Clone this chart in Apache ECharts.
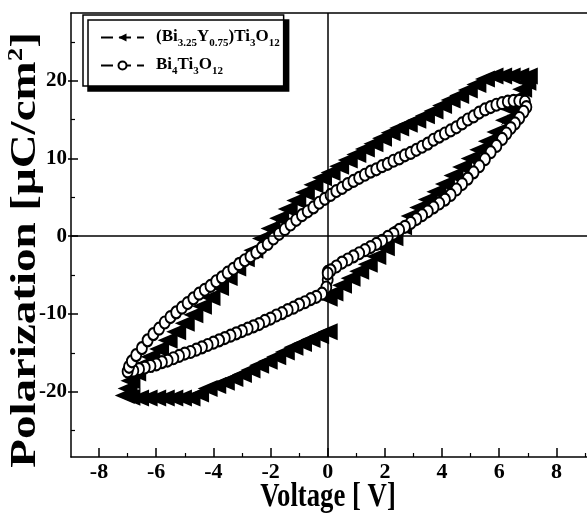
<!DOCTYPE html>
<html>
<head>
<meta charset="utf-8">
<script src="https://cdn.jsdelivr.net/npm/echarts@6/dist/echarts.min.js"></script>
<style>
html,body{margin:0;padding:0;background:#fff;}
#chart{width:587px;height:516px;}
</style>
</head>
<body>
<div id="chart"></div>
<script>
/* P-E hysteresis loops, two films. */
var seriesNames = ["(Bi3.25Y0.75)Ti3O12", "Bi4Ti3O12"];

/* [voltage V, polarization uC/cm2] - Y-doped film, filled triangles */
var bytLoop = [
  [0.0,-12.3],[-0.3,-12.8],[-0.6,-13.3],[-0.9,-13.8],[-1.2,-14.3],[-1.5,-14.9],[-1.8,-15.5],
  [-2.1,-16.1],[-2.4,-16.6],[-2.7,-17.2],[-3.0,-17.8],[-3.3,-18.3],[-3.6,-18.8],[-3.9,-19.2],
  [-4.2,-19.6],[-4.5,-20.3],[-4.8,-20.8],[-5.1,-20.8],[-5.4,-20.8],[-5.7,-20.8],[-6.0,-20.8],
  [-6.3,-20.8],[-6.6,-20.8],[-6.9,-20.7],[-7.1,-20.5],
  [-7.0,-19.6],[-6.9,-18.6],[-6.7,-17.6],[-6.45,-16.5],[-6.2,-15.5],[-5.9,-14.5],[-5.6,-13.4],
  [-5.3,-12.3],[-5.0,-11.2],[-4.7,-10.1],[-4.4,-9.0],[-4.1,-7.9],[-3.8,-6.6],[-3.5,-5.3],
  [-3.2,-4.1],[-2.9,-2.9],[-2.6,-1.8],[-2.3,-0.3],[-2.0,1.0],[-1.7,2.3],[-1.4,3.5],[-1.1,4.6],
  [-0.8,5.6],[-0.5,6.6],[-0.2,7.5],[0.1,8.2],[0.4,9.0],[0.7,9.8],[1.0,10.5],[1.3,11.2],
  [1.6,11.9],[1.9,12.6],[2.2,13.3],[2.5,13.9],[2.8,14.4],[3.1,14.9],[3.4,15.5],[3.7,16.1],
  [4.0,16.8],[4.3,17.5],[4.6,18.1],[4.9,18.8],[5.2,19.5],[5.5,20.2],[5.8,20.6],[6.1,20.6],
  [6.4,20.6],[6.7,20.6],[7.0,20.6],
  [6.95,19.8],[6.8,18.9],[6.6,17.7],[6.4,16.3],[6.2,14.9],[5.9,13.4],[5.6,12.2],[5.3,11.1],
  [5.0,10.0],[4.7,8.9],[4.4,7.8],[4.1,6.7],[3.8,5.7],[3.5,4.7],[3.2,3.7],[2.9,2.6],[2.6,1.2],
  [2.3,-0.2],[2.0,-1.5],[1.7,-2.6],[1.4,-3.6],[1.1,-4.5],[0.8,-5.4],[0.5,-6.3],[0.2,-7.3],[0.0,-8.0]
];

/* [voltage V, polarization uC/cm2] - undoped film, open circles */
var btLoop = [
  [0.0,-4.6],[0.0,-5.6],[-0.05,-6.6],[-0.2,-7.4],[-0.4,-7.8],[-0.6,-8.1],[-0.8,-8.5],[-1.0,-8.8],
  [-1.2,-9.2],[-1.4,-9.5],[-1.6,-9.9],[-1.8,-10.2],[-2.0,-10.6],[-2.2,-10.9],[-2.4,-11.3],
  [-2.6,-11.6],[-2.8,-11.9],[-3.0,-12.2],[-3.2,-12.5],[-3.4,-12.8],[-3.6,-13.1],[-3.8,-13.4],
  [-4.0,-13.7],[-4.2,-14.0],[-4.4,-14.3],[-4.6,-14.6],[-4.8,-14.9],[-5.0,-15.1],[-5.2,-15.4],
  [-5.4,-15.7],[-5.6,-16.0],[-5.8,-16.2],[-6.0,-16.5],[-6.2,-16.7],[-6.4,-16.9],[-6.6,-17.1],
  [-6.8,-17.3],[-7.0,-17.4],
  [-6.95,-16.8],[-6.85,-16.1],[-6.7,-15.3],[-6.5,-14.4],[-6.3,-13.4],[-6.1,-12.6],[-5.9,-11.9],
  [-5.7,-11.1],[-5.5,-10.4],[-5.3,-9.8],[-5.1,-9.2],[-4.9,-8.6],[-4.7,-8.0],[-4.5,-7.4],
  [-4.3,-6.9],[-4.1,-6.4],[-3.9,-5.8],[-3.7,-5.3],[-3.5,-4.7],[-3.3,-4.2],[-3.1,-3.6],
  [-2.9,-3.1],[-2.7,-2.6],[-2.5,-2.1],[-2.3,-1.5],[-2.1,-1.0],[-1.9,-0.3],[-1.7,0.3],[-1.5,0.9],
  [-1.3,1.5],[-1.1,2.1],[-0.9,2.7],[-0.7,3.2],[-0.5,3.7],[-0.3,4.3],[-0.1,4.8],[0.1,5.3],
  [0.3,5.8],[0.5,6.2],[0.7,6.7],[0.9,7.1],[1.1,7.5],[1.3,7.9],[1.5,8.3],[1.7,8.6],[1.9,9.0],
  [2.1,9.3],[2.3,9.7],[2.5,10.0],[2.7,10.4],[2.9,10.7],[3.1,11.1],[3.3,11.5],[3.5,11.9],
  [3.7,12.4],[3.9,12.8],[4.1,13.2],[4.3,13.6],[4.5,14.0],[4.7,14.5],[4.9,15.0],[5.1,15.4],
  [5.3,15.9],[5.5,16.3],[5.7,16.6],[5.9,16.9],[6.1,17.1],[6.3,17.3],[6.5,17.4],[6.7,17.4],[6.9,17.3],
  [6.95,16.6],[6.85,16.0],[6.7,15.2],[6.55,14.5],[6.4,13.9],[6.25,13.2],[6.1,12.5],[5.9,11.6],
  [5.7,10.8],[5.5,9.9],[5.3,9.0],[5.1,8.2],[4.9,7.4],[4.7,6.7],[4.5,6.0],[4.3,5.3],[4.1,4.7],
  [3.9,4.2],[3.7,3.7],[3.5,3.2],[3.3,2.7],[3.1,2.2],[2.9,1.7],[2.7,1.2],[2.5,0.8],[2.3,0.3],
  [2.1,-0.1],[1.9,-0.6],[1.7,-1.0],[1.5,-1.4],[1.3,-1.8],[1.1,-2.2],[0.9,-2.6],[0.7,-3.0],
  [0.5,-3.4],[0.3,-3.9],[0.1,-4.4],[0.0,-4.8]
];

var voltageTicks = [-8,-6,-4,-2,0,2,4,6,8];
var voltageMinor = [-9,-7,-5,-3,-1,1,3,5,7,9];
var polTicks = [-20,-10,0,10,20];
var polMinor = [-25,-15,-5,5,15,25];

var FONT = '"Liberation Serif","Times New Roman",serif';
var INK = "#000";
var X_MIN = -8.98, X_MAX = 9.07, Y_MIN = -28.4, Y_MAX = 28.7;

/* chemical formula -> rich text with subscripted numbers */
function formulaRich(name){
  return name.split(/(\d+(?:\.\d+)?)/).filter(function(s){ return s.length; }).map(function(s){
    return /^\d/.test(s) ? "{s|"+s+"}" : "{n|"+s+"}";
  }).join("");
}

function xAx(extra){
  var base = { type:"value", min:X_MIN, max:X_MAX, splitLine:{show:false},
    axisLine:{show:false, onZero:false}, axisTick:{show:false}, axisLabel:{show:false} };
  return Object.assign(base, extra);
}
function yAx(extra){
  var base = { type:"value", min:Y_MIN, max:Y_MAX, splitLine:{show:false},
    axisLine:{show:false, onZero:false}, axisTick:{show:false}, axisLabel:{show:false} };
  return Object.assign(base, extra);
}

var chart = echarts.init(document.getElementById("chart"), null, {renderer:"canvas"});
chart.setOption({
  animation:false,
  backgroundColor:"#fff",
  grid:{ left:71, right:0, top:13, bottom:59, containLabel:false },
  xAxis:[
    xAx({ position:"bottom",
      axisLine:{show:true, onZero:false, lineStyle:{color:INK, width:1.5}},
      axisTick:{show:true, inside:true, length:9, customValues:voltageTicks, lineStyle:{color:INK, width:1.5}},
      axisLabel:{show:true, customValues:voltageTicks, margin:4, color:INK,
        fontFamily:FONT, fontWeight:"bold", fontSize:22} }),
    xAx({ position:"bottom",
      axisTick:{show:true, inside:true, length:4, customValues:voltageMinor, lineStyle:{color:INK, width:1.2}} }),
    xAx({ position:"top",
      axisLine:{show:true, onZero:false, lineStyle:{color:INK, width:1.5}} })
  ],
  yAxis:[
    yAx({ position:"left",
      axisLine:{show:true, onZero:false, lineStyle:{color:INK, width:1.5}},
      axisTick:{show:true, inside:true, length:7, customValues:polTicks, lineStyle:{color:INK, width:1.5}},
      axisLabel:{show:true, customValues:polTicks, margin:4, color:INK,
        fontFamily:FONT, fontWeight:"bold", fontSize:21} }),
    yAx({ position:"left",
      axisTick:{show:true, inside:false, length:3, customValues:polTicks, lineStyle:{color:INK, width:1.5}} }),
    yAx({ position:"left",
      axisTick:{show:true, inside:true, length:4, customValues:polMinor, lineStyle:{color:INK, width:1.2}} })
  ],
  legend:{
    orient:"vertical", left:83, top:15,
    padding:[13,4,9,17], itemGap:7, itemWidth:43, itemHeight:10,
    backgroundColor:"#fff", borderColor:INK, borderWidth:1.5,
    shadowColor:INK, shadowBlur:0, shadowOffsetX:5, shadowOffsetY:5,
    selectedMode:false,
    data:seriesNames,
    formatter:formulaRich,
    textStyle:{
      padding:[0,0,0,7],
      rich:{
        n:{ fontFamily:FONT, fontWeight:"bold", fontSize:17, lineHeight:19, verticalAlign:"top", color:INK },
        s:{ fontFamily:FONT, fontWeight:"bold", fontSize:11, lineHeight:11, padding:[10,0,0,0], verticalAlign:"top", color:INK }
      }
    }
  },
  graphic:[
    { type:"text", x:328, y:497, scaleX:0.81, silent:true,
      style:{ text:"Voltage [ V]", fill:INK, font:'bold 33px '+FONT, align:"center", verticalAlign:"middle" } },
    { type:"text", x:25, y:250, rotation:Math.PI/2, scaleY:0.76, silent:true,
      style:{ text:"{n|Polarization [μC/cm}{p|2}{n|]}", fill:INK, align:"center", verticalAlign:"middle",
        rich:{
          n:{ fontFamily:FONT, fontWeight:"bold", fontSize:47, lineHeight:48, verticalAlign:"bottom", fill:INK },
          p:{ fontFamily:FONT, fontWeight:"bold", fontSize:27, lineHeight:27, verticalAlign:"top", fill:INK }
        } } }
  ],
  series:[
    { type:"line", name:seriesNames[0], data:bytLoop, xAxisIndex:0, yAxisIndex:0,
      symbol:"triangle", symbolSize:[17,20], symbolRotate:90, showAllSymbol:true,
      itemStyle:{color:INK}, lineStyle:{color:INK, width:1, type:[12,6]},
      emphasis:{disabled:true}, z:2,
      markLine:{ silent:true, symbol:["none","none"], label:{show:false},
        lineStyle:{color:INK, type:"solid", width:1.5},
        data:[{xAxis:0},{yAxis:0}] } },
    { type:"line", name:seriesNames[1], data:btLoop, xAxisIndex:0, yAxisIndex:0,
      symbol:"emptyCircle", symbolSize:[10,12], showAllSymbol:true,
      itemStyle:{color:INK, borderWidth:1.6}, lineStyle:{color:INK, width:1, type:[12,6]},
      emphasis:{disabled:true}, z:3 }
  ]
});
</script>
</body>
</html>
